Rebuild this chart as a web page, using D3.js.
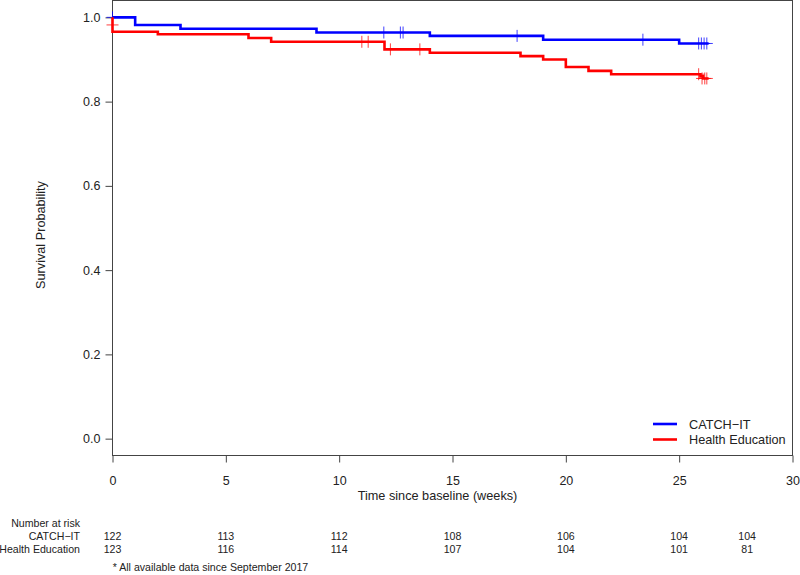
<!DOCTYPE html>
<html>
<head>
<meta charset="utf-8">
<script src="https://cdn.jsdelivr.net/npm/d3@7"></script>
<style>
  body { margin: 0; background: #fff; }
  svg { display: block; font-family: "Liberation Sans", Arial, sans-serif; }
</style>
</head>
<body>
<svg id="chart" width="800" height="575"></svg>
<script>
// ---- data ----
const groups = ["CATCH\u2212IT", "Health Education"];
const colors = ["#0000ff", "#ff0000"];

const catchTimes = [0, 1, 3, 9, 14, 19, 25, 26.3];
const catchSurv  = [1.0, 0.982, 0.973, 0.964, 0.956, 0.947, 0.938, 0.938];
const catchCensorTimes = [0, 11.97, 12.7, 12.82, 17.85, 23.4, 25.86, 25.98, 26.1, 26.22];
const catchCensorSurv  = [1.0, 0.964, 0.964, 0.964, 0.956, 0.947, 0.938, 0.938, 0.938, 0.938];

const heTimes = [0, 0, 2, 6, 7, 12, 14, 18, 19, 20, 21, 22, 25.94, 26.06, 26.3];
const heSurv  = [1.0, 0.966, 0.960, 0.951, 0.942, 0.924, 0.916, 0.908, 0.900, 0.882, 0.873, 0.865, 0.860, 0.855, 0.855];
const heCensorTimes = [0, 11.0, 11.28, 12.26, 13.56, 25.86, 26.01, 26.13, 26.22];
const heCensorSurv  = [0.982, 0.942, 0.942, 0.924, 0.924, 0.865, 0.855, 0.855, 0.855];

const xTicks = [0, 5, 10, 15, 20, 25, 30];
const yTicks = [0.0, 0.2, 0.4, 0.6, 0.8, 1.0];

const riskTimes = [0, 5, 10, 15, 20, 25, 28];
const riskCatch = [122, 113, 112, 108, 106, 104, 104];
const riskHE    = [123, 116, 114, 107, 104, 101, 81];

const xTitle = "Time since baseline (weeks)";
const yTitle = "Survival Probability";
const riskTitle = "Number at risk";
const footnote = "* All available data since September 2017";

// ---- layout ----
const svg = d3.select("#chart");
const pL = 112.5, pR = 792.5, pT = 0.5, pB = 455.5;
const x = d3.scaleLinear().domain([0, 30]).range([pL, pR]);
const y = d3.scaleLinear().domain([-0.04, 1.04]).range([pB, pT]);
const axisColor = "#444";

// box
svg.append("rect").attr("x", pL).attr("y", pT)
  .attr("width", pR - pL).attr("height", pB - pT)
  .attr("fill", "none").attr("stroke", axisColor).attr("stroke-width", 1);

// axes
const xAxis = svg.append("g").attr("transform", `translate(0,${pB})`)
  .call(d3.axisBottom(x).tickValues(xTicks).tickFormat(d3.format("d")).tickSize(7).tickPadding(14));
const yAxis = svg.append("g").attr("transform", `translate(${pL},0)`)
  .call(d3.axisLeft(y).tickValues(yTicks).tickFormat(d3.format(".1f")).tickSize(7).tickPadding(5));
[xAxis, yAxis].forEach(g => {
  g.select(".domain").remove();
  g.selectAll("line").attr("stroke", axisColor);
  g.selectAll("text").attr("fill", "#222").style("font-size", "12.5px")
    .style("font-family", '"Liberation Sans", Arial, sans-serif');
});

// titles
svg.append("text").attr("x", 437.5).attr("y", 500).attr("text-anchor", "middle")
  .style("font-size", "12.7px").attr("fill", "#222").text(xTitle);
svg.append("text").attr("transform", "translate(45,235) rotate(-90)").attr("text-anchor", "middle")
  .style("font-size", "12.7px").attr("fill", "#222").text(yTitle);

// curves
const line = d3.line().x(d => x(d[0])).y(d => y(d[1])).curve(d3.curveStepAfter);
const series = [
  { t: catchTimes, s: catchSurv, ct: catchCensorTimes, cs: catchCensorSurv, c: colors[0] },
  { t: heTimes, s: heSurv, ct: heCensorTimes, cs: heCensorSurv, c: colors[1] }
];
series.forEach(sr => {
  const pts = sr.t.map((t, i) => [t, sr.s[i]]);
  svg.append("path").attr("d", line(pts)).attr("fill", "none")
    .attr("stroke", sr.c).attr("stroke-width", 2.6);
  const g = svg.append("g");
  sr.ct.forEach((t, i) => {
    const cx = x(t), cy = y(sr.cs[i]);
    g.append("line").attr("x1", cx - 6).attr("x2", cx + 6).attr("y1", cy).attr("y2", cy)
      .attr("stroke", sr.c).attr("stroke-width", 1).attr("opacity", 0.75);
    g.append("line").attr("x1", cx).attr("x2", cx).attr("y1", cy - 6).attr("y2", cy + 6)
      .attr("stroke", sr.c).attr("stroke-width", 1).attr("opacity", 0.75);
  });
});

// legend
groups.forEach((name, i) => {
  const ly = 424 + i * 15.5;
  svg.append("line").attr("x1", 653).attr("x2", 677).attr("y1", ly).attr("y2", ly)
    .attr("stroke", colors[i]).attr("stroke-width", 2.6);
  svg.append("text").attr("x", 689).attr("y", ly + 4.5).style("font-size", "12.7px")
    .attr("fill", "#222").text(name);
});

// number at risk table
const tf = "10.6px";
svg.append("text").attr("x", 80).attr("y", 527).attr("text-anchor", "end")
  .style("font-size", tf).attr("fill", "#222").text(riskTitle);
[riskCatch, riskHE].forEach((vals, r) => {
  const ry = 540 + r * 12.5;
  svg.append("text").attr("x", 80).attr("y", ry).attr("text-anchor", "end")
    .style("font-size", tf).attr("fill", "#222").text(groups[r]);
  vals.forEach((v, i) => {
    svg.append("text").attr("x", x(riskTimes[i])).attr("y", ry).attr("text-anchor", "middle")
      .style("font-size", tf).attr("fill", "#222").text(v);
  });
});
svg.append("text").attr("x", 112.7).attr("y", 570.5).style("font-size", tf)
  .attr("fill", "#222").text(footnote);
</script>
</body>
</html>
